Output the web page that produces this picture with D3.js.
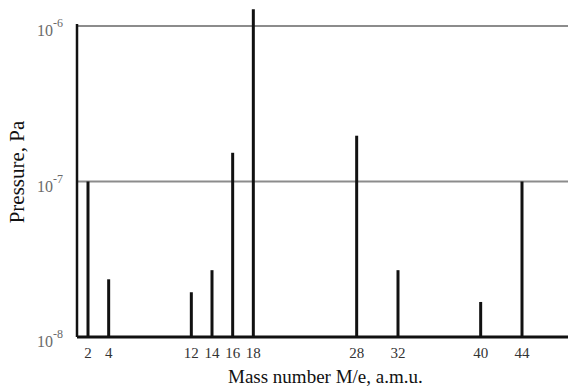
<!DOCTYPE html>
<html>
<head>
<meta charset="utf-8">
<script src="https://cdn.jsdelivr.net/npm/d3@7"></script>
<style>
  body { margin: 0; background: #fff; }
  svg { display: block; font-family: "Liberation Serif", "DejaVu Serif", serif; }
</style>
</head>
<body>
<svg id="spectrum" width="568" height="389"></svg>
<script>
// mass spectrum peaks
var masses = [2, 4, 12, 14, 16, 18, 28, 32, 40, 44];
var pressures = [1.0e-7, 2.35e-8, 1.94e-8, 2.69e-8, 1.53e-7, 1.28e-6, 1.97e-7, 2.69e-8, 1.68e-8, 1.0e-7];
var decades = [1e-8, 1e-7, 1e-6];
var decadeExp = ["-8", "-7", "-6"];

var svg = d3.select("svg#spectrum"),
	width = 568,
	height = 389,
	margin = { top: 26, right: 0, bottom: 52, left: 77 };

var x = d3.scaleLinear()
	.domain([2, 44])
	.range([88, 522]);

var y = d3.scaleLog()
	.domain([1e-8, 1e-6])
	.range([height - margin.bottom, margin.top]);

// grey gridlines at upper decades
svg.append("g")
	.selectAll("line")
	.data(decades.slice(1))
	.enter().append("line")
	.attr("x1", margin.left)
	.attr("x2", width - margin.right)
	.attr("y1", function(d) { return y(d); })
	.attr("y2", function(d) { return y(d); })
	.attr("stroke", "#8c8c8c")
	.attr("stroke-width", 2);

// peaks
svg.append("g")
	.selectAll("line")
	.data(masses)
	.enter().append("line")
	.attr("x1", function(d) { return x(d); })
	.attr("x2", function(d) { return x(d); })
	.attr("y1", y(1e-8))
	.attr("y2", function(d, i) { return y(pressures[i]); })
	.attr("stroke", "#111")
	.attr("stroke-width", 3);

// axes lines
svg.append("line")
	.attr("x1", margin.left).attr("x2", margin.left)
	.attr("y1", margin.top - 2).attr("y2", y(1e-8))
	.attr("stroke", "#111").attr("stroke-width", 2.5);
svg.append("line")
	.attr("x1", margin.left).attr("x2", width)
	.attr("y1", y(1e-8)).attr("y2", y(1e-8))
	.attr("stroke", "#111").attr("stroke-width", 3);

// y tick labels 10^n
var yl = svg.append("g")
	.selectAll("text")
	.data(decades)
	.enter().append("text")
	.attr("x", 37)
	.attr("y", function(d) { return y(d) + 10; })
	.attr("fill", "#6a6a6a")
	.attr("font-size", 16);
yl.append("tspan").text("10");
yl.append("tspan")
	.attr("dy", -9)
	.attr("font-size", 12)
	.text(function(d, i) { return decadeExp[i]; });

// x tick labels
svg.append("g")
	.selectAll("text")
	.data(masses)
	.enter().append("text")
	.attr("x", function(d) { return x(d); })
	.attr("y", 358)
	.attr("text-anchor", "middle")
	.attr("font-size", 15)
	.attr("fill", "#333")
	.text(function(d) { return d; });

// axis titles
svg.append("text")
	.attr("x", 228)
	.attr("y", 383)
	.attr("font-size", 19)
	.attr("fill", "#111")
	.text("Mass number M/e, a.m.u.");

svg.append("text")
	.attr("transform", "translate(24,172) rotate(-90)")
	.attr("text-anchor", "middle")
	.attr("font-size", 21)
	.attr("fill", "#111")
	.text("Pressure, Pa");
</script>
</body>
</html>
